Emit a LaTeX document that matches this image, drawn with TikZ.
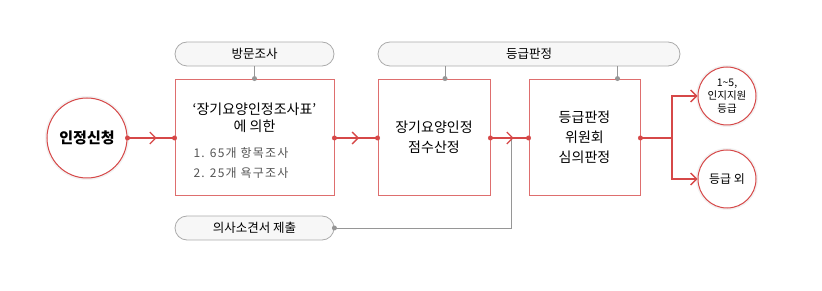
\documentclass[tikz,border=0pt]{standalone}
\usepackage{fontspec}
\setmainfont{Noto Sans CJK KR}
\usepackage{xcolor}
\usetikzlibrary{arrows.meta, positioning, calc, decorations.markings}
\definecolor{flowred}{RGB}{214,72,72}
\definecolor{boxred}{RGB}{222,110,110}
\definecolor{auxgray}{RGB}{150,150,150}
\definecolor{subgray}{RGB}{85,85,85}

\begin{document}
\begin{tikzpicture}[x=1pt, y=-1pt,
    stepbox/.style={draw=boxred, line width=0.9pt, fill=white, minimum height=116pt, inner sep=0pt},
    pill/.style={draw=auxgray!80, line width=0.8pt, fill=black!3, rounded corners=12pt, minimum height=24pt, font=\fontsize{12.5}{14}\selectfont, inner sep=0pt},
    endcirc/.style={circle, draw=flowred, line width=1pt, fill=white, preaction={draw=black!5, line width=4pt}, inner sep=0pt, align=center},
    flow/.style={draw=flowred, line width=1.1pt},
    midarrow/.style={postaction=decorate, decoration={markings, mark=at position #1 with {\arrow{Straight Barb[length=6pt, width=12pt, line width=1.3pt]}}}},
    aux/.style={draw=auxgray, line width=0.9pt},
    reddot/.style={fill=flowred, draw=none, circle, minimum size=5pt, inner sep=0pt},
    graydot/.style={fill=auxgray, draw=none, circle, minimum size=5pt, inner sep=0pt}]
    \useasboundingbox (0,0) rectangle (822,291);
    % 단계 상자
    \node[endcirc, minimum size=80pt, font=\fontsize{15}{18}\selectfont\bfseries] (apply) at (87,138) {인정신청};
    \node[stepbox, minimum width=159pt] (survey) at (254.5,137) {};
    \node[stepbox, minimum width=112pt, align=center, font=\fontsize{14}{20}\selectfont] (score) at (434,137) {장기요양인정\\점수산정};
    \node[stepbox, minimum width=111pt, align=center, font=\fontsize{14}{20}\selectfont] (panel) at (584.5,137) {등급판정\\위원회\\심의판정};
    \node[font=\fontsize{14}{17}\selectfont, align=center] (surveytitle) at (254.5,118) {‘장기요양인정조사표’\\에 의한};
    \node[font=\fontsize{12}{20}\selectfont\addfontfeatures{LetterSpace=10}, text=subgray, align=left, anchor=north west] (surveyitems) at (190,144) {1. 65개 항목조사\\2. 25개 욕구조사};
    % 보조 항목
    \node[pill, minimum width=159pt] (visit) at (254.5,54) {방문조사};
    \node[pill, minimum width=302pt] (grade) at (529,54) {등급판정};
    \node[pill, minimum width=159pt] (doctor) at (254.5,228) {의사소견서 제출};
    % 결과
    \node[endcirc, minimum size=58pt, font=\fontsize{10.5}{13}\selectfont] (g15) at (727,96) {1\textasciitilde5,\\인지지원\\등급};
    \node[endcirc, minimum size=58pt, font=\fontsize{12}{14}\selectfont] (gout) at (727,179) {등급 외};
    \coordinate (join) at ($(score.east |- 0,138)!0.54!(panel.west |- 0,138)$);
    \coordinate (split) at (672,138);
    % 흐름선
    \draw[flow, midarrow=0.62] (apply.east) -- (survey.west |- apply.east);
    \draw[flow, midarrow=0.57] (survey.east |- apply.east) -- (score.west |- apply.east);
    \draw[aux] (doctor.east) -| (join);
    \draw[flow, midarrow=0.61] (score.east |- apply.east) -- (panel.west |- apply.east);
    \draw[flow] (panel.east |- apply.east) -- (split);
    \draw[flow, -{Straight Barb[length=6pt, width=12pt, line width=1.3pt]}] (split) |- (g15.west);
    \draw[flow, -{Straight Barb[length=6pt, width=12pt, line width=1.3pt]}] (split) |- (gout.west);
    \draw[aux] (visit.south) -- (survey.north);
    \draw[aux] ([xshift=11pt]score.north |- grade.south) -- ([xshift=11pt]score.north);
    \draw[aux] ([xshift=33pt]panel.north |- grade.south) -- ([xshift=33pt]panel.north);
    % 연결점
    \foreach \p in {apply.east, survey.west |- apply.east, survey.east |- apply.east, score.west |- apply.east, score.east |- apply.east, panel.west |- apply.east, panel.east |- apply.east}
        \node[reddot] at (\p) {};
    \node[graydot] at (survey.north) {};
    \node[graydot] at ([xshift=11pt]score.north) {};
    \node[graydot] at ([xshift=33pt]panel.north) {};
    \node[graydot] at (doctor.east) {};
\end{tikzpicture}
\end{document}
